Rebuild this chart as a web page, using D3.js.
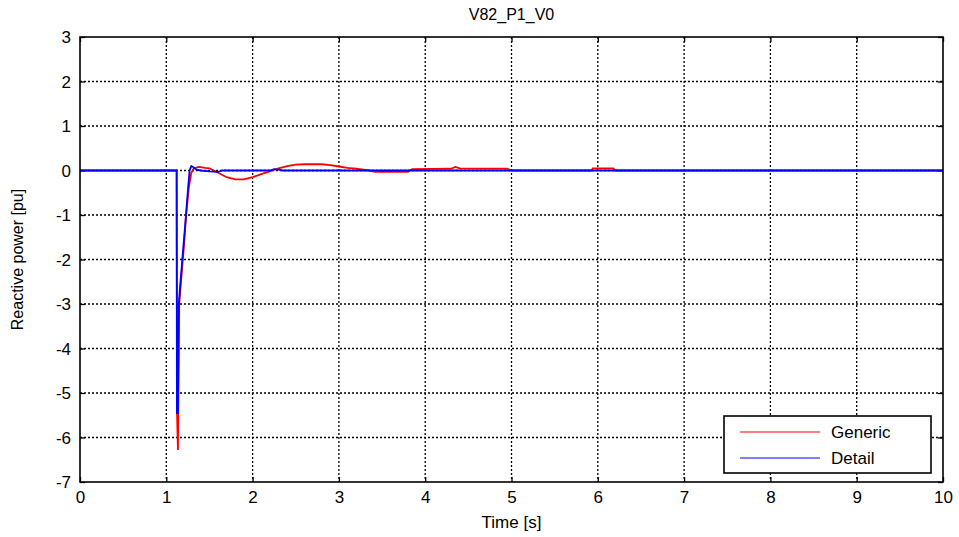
<!DOCTYPE html>
<html><head><meta charset="utf-8">
<script src="https://cdn.jsdelivr.net/npm/d3@7"></script>
<style>body{margin:0;background:#fff;} text{font-family:"Liberation Sans",Arial,sans-serif;}</style>
</head><body>
<svg id="c" width="959" height="537"></svg>
<script>
const title = "V82_P1_V0";
const xLabel = "Time [s]";
const yLabel = "Reactive power [pu]";
const xTicks = [0,1,2,3,4,5,6,7,8,9,10];
const yTicks = [3,2,1,0,-1,-2,-3,-4,-5,-6,-7];
const seriesNames = ["Generic","Detail"];
const seriesColors = ["#ff0000","#0000ff"];

const genericT = [0,1.12,1.125,1.135,1.14,1.15,1.17,1.2,1.23,1.26,1.29,1.32,1.38,1.45,1.5,1.6,1.7,1.8,1.9,2.0,2.1,2.2,2.3,2.4,2.5,2.6,2.8,2.9,3.0,3.1,3.2,3.35,3.42,3.8,3.85,4.3,4.35,4.4,4.95,5.0,5.93,5.94,6.18,6.2,10];
const genericV = [0,0,-5.5,-6.28,-5.0,-3.0,-2.5,-1.8,-1.0,-0.4,-0.05,0.05,0.08,0.06,0.05,-0.05,-0.15,-0.2,-0.2,-0.15,-0.08,-0.02,0.05,0.1,0.13,0.14,0.14,0.12,0.09,0.06,0.04,0.0,-0.03,-0.03,0.03,0.04,0.08,0.05,0.04,0,0,0.05,0.05,0,0];

const detailT = [0,1.12,1.123,1.135,1.145,1.16,1.19,1.22,1.25,1.27,1.29,1.31,1.35,1.4,1.5,1.6,1.65,2.2,2.25,2.3,2.35,10];
const detailV = [0,0,-5.45,-5.45,-3.0,-2.6,-1.9,-1.2,-0.45,0,0.1,0.08,0.02,0,-0.02,-0.03,0,0,0.03,0.02,0,0];

const svg = d3.select("#c");
const L=80,T=37,R=943,B=482;
const x = d3.scaleLinear().domain([0,10]).range([L,R]);
const y = d3.scaleLinear().domain([-7,3]).range([B,T]);
const fmt = d => String(d);

// grid
const g = svg.append("g");
g.selectAll(".gx").data(xTicks.slice(1,-1)).enter().append("line")
 .attr("x1",d=>x(d)).attr("x2",d=>x(d)).attr("y1",T).attr("y2",B)
 .attr("stroke","#000").attr("stroke-width",1.3).attr("stroke-dasharray","2,2");
g.selectAll(".gy").data(yTicks.slice(1,-1)).enter().append("line")
 .attr("y1",d=>y(d)).attr("y2",d=>y(d)).attr("x1",L).attr("x2",R)
 .attr("stroke","#000").attr("stroke-width",1.3).attr("stroke-dasharray","2,2");

// axes
const xa = svg.append("g").attr("transform",`translate(0,${B})`)
 .call(d3.axisBottom(x).tickValues(xTicks).tickSize(-5).tickPadding(9).tickFormat(fmt));
const xt = svg.append("g").attr("transform",`translate(0,${T})`)
 .call(d3.axisTop(x).tickValues(xTicks).tickSize(-5).tickFormat(""));
const ya = svg.append("g").attr("transform",`translate(${L},0)`)
 .call(d3.axisLeft(y).tickValues(yTicks).tickSize(-5).tickPadding(9).tickFormat(fmt));
const yr = svg.append("g").attr("transform",`translate(${R},0)`)
 .call(d3.axisRight(y).tickValues(yTicks).tickSize(-5).tickFormat(""));
[xa,xt,ya,yr].forEach(a=>{a.select(".domain").remove();a.selectAll("line").attr("stroke","#000").attr("stroke-width",1.3);
 a.selectAll("text").attr("font-size",17).attr("fill","#000").attr("font-family","Liberation Sans, Arial, sans-serif");});
ya.selectAll("text").attr("dy","0.35em");

// lines
svg.append("clipPath").attr("id","clip").append("rect").attr("x",L).attr("y",T).attr("width",R-L).attr("height",B-T);
const line = d3.line().x(d=>x(d[0])).y(d=>y(d[1]));
const genData = genericT.map((t,i)=>[t,genericV[i]]);
const detData = detailT.map((t,i)=>[t,detailV[i]]);
svg.append("path").datum(genData).attr("d",line).attr("fill","none").attr("stroke",seriesColors[0]).attr("stroke-width",1.8).attr("clip-path","url(#clip)");
svg.append("path").datum(detData).attr("d",line).attr("fill","none").attr("stroke",seriesColors[1]).attr("stroke-width",1.8).attr("clip-path","url(#clip)");

// frame
svg.append("rect").attr("x",L).attr("y",T).attr("width",R-L).attr("height",B-T).attr("fill","none").attr("stroke","#000").attr("stroke-width",1.6);

// title & labels
svg.append("text").attr("x",(L+R)/2).attr("y",20).attr("text-anchor","middle").attr("font-size",16).text(title);
svg.append("text").attr("x",(L+R)/2).attr("y",528).attr("text-anchor","middle").attr("font-size",17).text(xLabel);
svg.append("text").attr("transform",`translate(23,${(T+B)/2}) rotate(-90)`).attr("text-anchor","middle").attr("font-size",16).text(yLabel);

// legend
const lg = svg.append("g");
lg.append("rect").attr("x",724).attr("y",416).attr("width",207).attr("height",57).attr("fill","#fff").attr("stroke","#000").attr("stroke-width",1.6);
seriesNames.forEach((n,i)=>{
  const yy = 432 + i*26;
  lg.append("line").attr("x1",740).attr("x2",820).attr("y1",yy).attr("y2",yy).attr("stroke",seriesColors[i]).attr("stroke-width",1.2);
  lg.append("text").attr("x",831).attr("y",yy+6).attr("font-size",17).text(n);
});
</script>
</body></html>
